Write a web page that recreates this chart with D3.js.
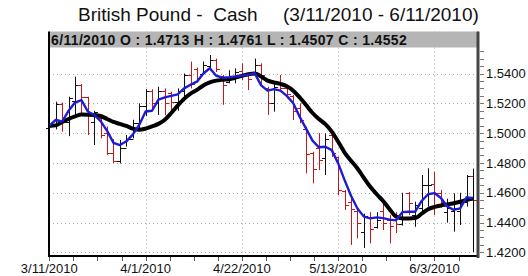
<!DOCTYPE html>
<html>
<head>
<meta charset="utf-8">
<script src="https://cdn.jsdelivr.net/npm/d3@7/dist/d3.min.js"></script>
<style>
  body { margin: 0; background: #fff; }
  svg { display: block; font-family: "Liberation Sans", Arial, sans-serif; }
</style>
</head>
<body>
<svg id="chart" width="528" height="276"></svg>
<script>
const titleLeft = 'British Pound -  Cash';
const titleRight = '(3/11/2010 - 6/11/2010)';
const header = '6/11/2010 O : 1.4713 H : 1.4761 L : 1.4507 C : 1.4552';

// bar index of each date label (trading days from 3/11/2010)
const xLabels = ['3/11/2010', '4/1/2010', '4/22/2010', '5/13/2010', '6/3/2010'];
const xLabelIdx = [0, 15, 30, 45, 60];
const yTicks = [1.42, 1.44, 1.46, 1.48, 1.50, 1.52, 1.54];

const opens = [
  1.5035, 1.5060, 1.5195, 1.5075, 1.5215, 1.5320, 1.5240, 1.5075, 1.5100, 1.5000,
  1.4870, 1.4815, 1.4900, 1.4960, 1.5070, 1.5180, 1.5285, 1.5200, 1.5280, 1.5270,
  1.5210, 1.5280, 1.5390, 1.5430, 1.5400, 1.5450, 1.5490, 1.5380, 1.5340, 1.5370,
  1.5420, 1.5390, 1.5400, 1.5460, 1.5300, 1.5200, 1.5330, 1.5300, 1.5250, 1.5170,
  1.5030, 1.4870, 1.4900, 1.4830, 1.4990, 1.4840, 1.4610, 1.4540, 1.4480, 1.4340,
  1.4440, 1.4370, 1.4480, 1.4420, 1.4420, 1.4390, 1.4600, 1.4450, 1.4500, 1.4650,
  1.4660, 1.4600, 1.4470, 1.4480, 1.4480, 1.4540, 1.4713
];
const highs = [
  1.5070, 1.5211, 1.5205, 1.5244, 1.5379, 1.5330, 1.5244, 1.5150, 1.5110, 1.5045,
  1.4960, 1.4954, 1.4987, 1.5090, 1.5200, 1.5295, 1.5294, 1.5311, 1.5300, 1.5278,
  1.5300, 1.5400, 1.5480, 1.5440, 1.5480, 1.5524, 1.5500, 1.5390, 1.5422, 1.5435,
  1.5468, 1.5400, 1.5500, 1.5468, 1.5311, 1.5334, 1.5390, 1.5310, 1.5256, 1.5200,
  1.5043, 1.4875, 1.5000, 1.4998, 1.5020, 1.4842, 1.4618, 1.4585, 1.4484, 1.4460,
  1.4470, 1.4470, 1.4525, 1.4450, 1.4470, 1.4600, 1.4605, 1.4540, 1.4719, 1.4764,
  1.4741, 1.4620, 1.4560, 1.4596, 1.4600, 1.4719, 1.4761
];
const lows = [
  1.5020, 1.5025, 1.5010, 1.4980, 1.5122, 1.5122, 1.4987, 1.4920, 1.4965, 1.4853,
  1.4800, 1.4797, 1.4909, 1.4965, 1.5025, 1.5115, 1.5166, 1.5122, 1.5120, 1.5133,
  1.5150, 1.5244, 1.5300, 1.5350, 1.5400, 1.5426, 1.5410, 1.5190, 1.5334, 1.5334,
  1.5356, 1.5289, 1.5390, 1.5311, 1.5122, 1.5144, 1.5278, 1.5233, 1.5088, 1.5066,
  1.4730, 1.4663, 1.4752, 1.4719, 1.4840, 1.4585, 1.4484, 1.4250, 1.4294, 1.4230,
  1.4260, 1.4360, 1.4350, 1.4260, 1.4330, 1.4380, 1.4450, 1.4372, 1.4451, 1.4507,
  1.4451, 1.4500, 1.4400, 1.4339, 1.4384, 1.4507, 1.4507
];
const closes = [
  1.5060, 1.5195, 1.5075, 1.5235, 1.5325, 1.5245, 1.5135, 1.5140, 1.4990, 1.4870,
  1.4810, 1.4900, 1.4960, 1.5070, 1.5180, 1.5285, 1.5200, 1.5280, 1.5200, 1.5210,
  1.5280, 1.5390, 1.5330, 1.5370, 1.5460, 1.5490, 1.5430, 1.5320, 1.5380, 1.5410,
  1.5380, 1.5360, 1.5460, 1.5390, 1.5200, 1.5310, 1.5300, 1.5260, 1.5150, 1.5090,
  1.4860, 1.4760, 1.4820, 1.4960, 1.4870, 1.4620, 1.4520, 1.4490, 1.4400, 1.4445,
  1.4360, 1.4420, 1.4400, 1.4380, 1.4390, 1.4470, 1.4530, 1.4520, 1.4650, 1.4655,
  1.4600, 1.4540, 1.4500, 1.4500, 1.4530, 1.4710, 1.4552
];

// moving averages
const fastAvg = [
  1.5050, 1.5088, 1.5078, 1.5150, 1.5205, 1.5222, 1.5145, 1.5122, 1.5080, 1.5015,
  1.4935, 1.4920, 1.4945, 1.4990, 1.5055, 1.5145, 1.5150, 1.5225, 1.5240, 1.5250,
  1.5260, 1.5300, 1.5325, 1.5345, 1.5400, 1.5435, 1.5385, 1.5372, 1.5375, 1.5380,
  1.5386, 1.5392, 1.5402, 1.5320, 1.5285, 1.5295, 1.5285, 1.5250, 1.5200, 1.5110,
  1.5030, 1.4950, 1.4905, 1.4909, 1.4886, 1.4797, 1.4685, 1.4580, 1.4495, 1.4440,
  1.4428, 1.4435, 1.4430, 1.4420, 1.4415, 1.4470, 1.4473, 1.4473, 1.4545, 1.4590,
  1.4598, 1.4565, 1.4508, 1.4485, 1.4495, 1.4570, 1.4562
];
const slowAvg = [
  1.5048, 1.5052, 1.5075, 1.5095, 1.5112, 1.5125, 1.5124, 1.5122, 1.5115, 1.5095,
  1.5075, 1.5062, 1.5048, 1.5030, 1.5022, 1.5030, 1.5045, 1.5062, 1.5090, 1.5135,
  1.5185, 1.5230, 1.5265, 1.5290, 1.5320, 1.5340, 1.5352, 1.5358, 1.5362, 1.5372,
  1.5384, 1.5395, 1.5400, 1.5380, 1.5352, 1.5340, 1.5330, 1.5315, 1.5285, 1.5240,
  1.5189, 1.5135, 1.5095, 1.5060, 1.5010, 1.4942, 1.4870, 1.4815, 1.4763, 1.4700,
  1.4640, 1.4590, 1.4545, 1.4490, 1.4440, 1.4428, 1.4428, 1.4430, 1.4460, 1.4490,
  1.4505, 1.4515, 1.4522, 1.4530, 1.4540, 1.4552, 1.4562
];

function makeChart() {
  const svg = d3.select('#chart');
  const box = { left: 49, right: 478, top: 31.5, bottom: 256 };

  const x = d3.scaleLinear().domain([0, opens.length - 1]).range([49.3, 473]);
  const y = d3.scaleLinear().domain([1.42, 1.54]).range([252.4, 73.5]);

  const bars = opens.map((o, i) => ({ i, o, h: highs[i], l: lows[i], c: closes[i] }));

  // title
  svg.append('text')
    .attr('x', 78).attr('y', 21)
    .style('font-size', '19px').style('white-space', 'pre')
    .attr('fill', '#111')
    .text(titleLeft);
  svg.append('text')
    .attr('x', 283).attr('y', 21)
    .style('font-size', '19px')
    .attr('fill', '#111')
    .text(titleRight);

  // grid
  svg.append('g').selectAll('line')
    .data(yTicks)
    .enter().append('line')
    .attr('x1', box.left).attr('x2', box.right)
    .attr('y1', d => Math.round(y(d)) + 0.5).attr('y2', d => Math.round(y(d)) + 0.5)
    .attr('stroke', '#aaa').attr('stroke-dasharray', '1,3');

  svg.append('g').selectAll('line')
    .data(xLabelIdx.slice(1))
    .enter().append('line')
    .attr('x1', d => Math.round(x(d)) + 0.5).attr('x2', d => Math.round(x(d)) + 0.5)
    .attr('y1', box.top).attr('y2', box.bottom)
    .attr('stroke', '#aaa').attr('stroke-dasharray', '1,3');

  // OHLC bars
  const col = d => d.c < d.o ? '#c4161c' : '#111';
  const bar = svg.append('g').selectAll('g')
    .data(bars)
    .enter().append('g')
    .attr('stroke', col).attr('stroke-width', 1);
  bar.append('line')
    .attr('x1', d => Math.round(x(d.i)) + 0.5).attr('x2', d => Math.round(x(d.i)) + 0.5)
    .attr('y1', d => y(d.h)).attr('y2', d => y(d.l));
  bar.append('line')
    .attr('x1', d => Math.round(x(d.i)) - 3).attr('x2', d => Math.round(x(d.i)) + 0.5)
    .attr('y1', d => Math.round(y(d.o)) + 0.5).attr('y2', d => Math.round(y(d.o)) + 0.5);
  bar.append('line')
    .attr('x1', d => Math.round(x(d.i)) + 0.5).attr('x2', d => Math.round(x(d.i)) + 4)
    .attr('y1', d => Math.round(y(d.c)) + 0.5).attr('y2', d => Math.round(y(d.c)) + 0.5);

  // averages
  const line = d3.line()
    .x((d, i) => x(i))
    .y(d => y(d));
  svg.append('path')
    .attr('d', line.curve(d3.curveMonotoneX)(slowAvg))
    .attr('fill', 'none').attr('stroke', '#000').attr('stroke-width', 4)
    .attr('stroke-linejoin', 'round');
  svg.append('path')
    .attr('d', line.curve(d3.curveLinear)(fastAvg))
    .attr('fill', 'none').attr('stroke', '#1c1cd6').attr('stroke-width', 2.4)
    .attr('stroke-linejoin', 'round');

  // cursor line on the last bar
  const last = bars[bars.length - 1];
  svg.append('line')
    .attr('x1', Math.round(x(last.i)) + 0.5).attr('x2', Math.round(x(last.i)) + 0.5)
    .attr('y1', y(last.h)).attr('y2', 252)
    .attr('stroke', '#000');

  // header strip
  svg.append('rect')
    .attr('x', box.left).attr('y', box.top)
    .attr('width', box.right - box.left).attr('height', 16)
    .attr('fill', '#b5b5b5');
  svg.append('text')
    .attr('x', 51).attr('y', 45)
    .style('font-size', '14px').style('font-weight', 'bold')
    .style('letter-spacing', '0.35px')
    .attr('fill', '#111')
    .text(header);

  // frame
  svg.append('line')
    .attr('x1', box.left).attr('x2', box.left)
    .attr('y1', box.top).attr('y2', box.bottom + 1)
    .attr('stroke', '#000').attr('stroke-width', 2);
  svg.append('line')
    .attr('x1', box.left).attr('x2', box.right)
    .attr('y1', box.bottom).attr('y2', box.bottom)
    .attr('stroke', '#000').attr('stroke-width', 2);
  svg.append('line')
    .attr('x1', box.right).attr('x2', box.right)
    .attr('y1', box.top).attr('y2', box.bottom + 2)
    .attr('stroke', '#444').attr('stroke-width', 3);

  // right axis
  const minor = d3.range(1.42, 1.556, 0.005);
  svg.append('g').selectAll('line')
    .data(minor)
    .enter().append('line')
    .attr('x1', box.right + 2).attr('x2', box.right + 6)
    .attr('y1', d => Math.round(y(d)) + 0.5).attr('y2', d => Math.round(y(d)) + 0.5)
    .attr('stroke', '#777');
  svg.append('g').selectAll('text')
    .data(yTicks)
    .enter().append('text')
    .attr('x', 486).attr('y', d => y(d))
    .attr('dy', '0.35em')
    .style('font-size', '13px')
    .attr('fill', '#111')
    .text(d => d.toFixed(4));

  // bottom axis
  const ticks = d3.range(0, opens.length, 3.75);
  svg.append('g').selectAll('line')
    .data(ticks)
    .enter().append('line')
    .attr('x1', d => Math.round(x(d)) + 0.5).attr('x2', d => Math.round(x(d)) + 0.5)
    .attr('y1', box.bottom + 1).attr('y2', box.bottom + 5)
    .attr('stroke', '#555');
  svg.append('g').selectAll('text')
    .data(xLabels)
    .enter().append('text')
    .attr('x', (d, i) => x(xLabelIdx[i]))
    .attr('y', 273)
    .attr('text-anchor', 'middle')
    .style('font-size', '13px')
    .attr('fill', '#111')
    .text(d => d);
}

makeChart();
</script>
</body>
</html>
